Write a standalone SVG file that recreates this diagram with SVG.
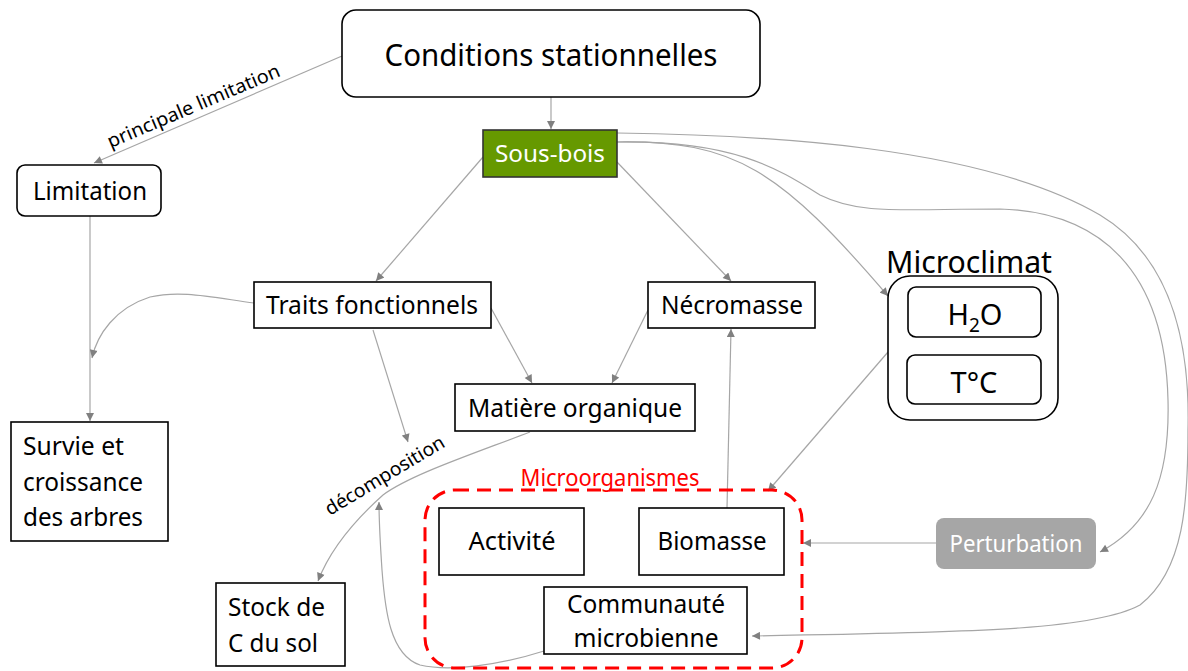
<svg xmlns="http://www.w3.org/2000/svg" width="1188" height="671" viewBox="0 0 1188 671">
<defs>
<marker id="arr" viewBox="0 0 10 10" refX="10" refY="5" markerWidth="9" markerHeight="8" markerUnits="userSpaceOnUse" orient="auto">
<path d="M0,0 L10,5 L0,10 z" fill="#808080"/>
</marker>
<style>
.box{fill:#fff;stroke:#000;stroke-width:1.6}
.t{font-family:"Noto Sans","Open Sans",sans-serif;fill:#000}
.c{fill:none;stroke:#a6a6a6;stroke-width:1.2;marker-end:url(#arr)}
.lbl{font-family:"Noto Sans","Open Sans",sans-serif;font-size:19px;fill:#000}
</style>
</defs>
<rect width="1188" height="671" fill="#fff"/>

<g id="connectors">
<path class="c" d="M342,56 L94,163"/>
<path class="c" d="M551,97 L551,129"/>
<path class="c" d="M90,216 L90,421"/>
<path class="c" d="M254,303 C210,297 180,290 150,297 C115,308 97,335 92,358"/>
<path class="c" d="M483,157 L376,281"/>
<path class="c" d="M617,162 L731,281"/>
<path class="c" d="M617,142 C735,140 780,170 888,296"/>
<path class="c" d="M617,142 C735,140 780,170 820,195 C860,215 900,209 1000,209 C1100,212 1165,270 1168,400 C1170,480 1150,525 1100,552"/>
<path class="c" d="M617,133 C760,135 980,145 1100,215 C1175,260 1190,350 1188,430 C1188,500 1185,570 1140,605 C1090,632 950,632 752,636"/>
<path class="c" d="M936,543 L803,543"/>
<path class="c" d="M888,352 L768,491"/>
<path class="c" d="M727,508 L731,329"/>
<path class="c" d="M648,310 L612,383"/>
<path class="c" d="M491,308 L532,383"/>
<path class="c" d="M373,330 L408,442"/>
<path class="c" d="M530,432 C470,455 410,475 383,495 C355,520 330,550 318,581"/>
<path class="c" d="M544,651 C500,665 450,672 420,665 C390,655 385,610 382,570 C380,540 379,520 379,502"/>
<text class="lbl" transform="translate(196,112) rotate(-23)" text-anchor="middle" textLength="186" lengthAdjust="spacingAndGlyphs">principale limitation</text>
<text class="lbl" transform="translate(388,481) rotate(-31)" text-anchor="middle" textLength="136" lengthAdjust="spacingAndGlyphs">décomposition</text>
</g>

<g id="conditions">
<rect class="box" x="342" y="10" width="418" height="87" rx="14"/>
<text class="t" x="551" y="66" font-size="31" text-anchor="middle" textLength="333" lengthAdjust="spacingAndGlyphs">Conditions stationnelles</text>
</g>

<g id="sousbois">
<rect x="483" y="130" width="134" height="47" fill="#669900" stroke="#333" stroke-width="1.6"/>
<text class="t" x="550" y="162" font-size="23" style="fill:#fff" text-anchor="middle" textLength="110" lengthAdjust="spacingAndGlyphs">Sous-bois</text>
</g>

<g id="limitation">
<rect class="box" x="17" y="165" width="144" height="51" rx="8"/>
<text class="t" x="90" y="200" font-size="25" text-anchor="middle" textLength="114" lengthAdjust="spacingAndGlyphs">Limitation</text>
</g>

<g id="traits">
<rect class="box" x="254" y="282" width="237" height="46"/>
<text class="t" x="372" y="314" font-size="25" text-anchor="middle" textLength="212" lengthAdjust="spacingAndGlyphs">Traits fonctionnels</text>
</g>

<g id="necromasse">
<rect class="box" x="648" y="282" width="167" height="46"/>
<text class="t" x="732" y="314" font-size="25" text-anchor="middle" textLength="142" lengthAdjust="spacingAndGlyphs">Nécromasse</text>
</g>

<g id="microclimat">
<text class="t" x="969" y="273" font-size="31" text-anchor="middle" textLength="166" lengthAdjust="spacingAndGlyphs">Microclimat</text>
<rect class="box" x="888" y="276" width="170" height="144" rx="22"/>
<g id="h2o">
<rect class="box" x="908" y="287" width="133" height="50" rx="8"/>
<text class="t" x="975" y="325" font-size="29" text-anchor="middle">H<tspan font-size="19" dy="7">2</tspan><tspan dy="-7">O</tspan></text>
</g>
<g id="temp">
<rect class="box" x="907" y="355" width="134" height="49" rx="8"/>
<text class="t" x="974" y="393" font-size="29" text-anchor="middle">T°C</text>
</g>
</g>

<g id="matiere">
<rect class="box" x="455" y="384" width="240" height="47"/>
<text class="t" x="575" y="417" font-size="25" text-anchor="middle" textLength="214" lengthAdjust="spacingAndGlyphs">Matière organique</text>
</g>

<g id="survie">
<rect class="box" x="11" y="422" width="157" height="119"/>
<text class="t" x="23" y="455" font-size="25" textLength="101" lengthAdjust="spacingAndGlyphs">Survie et</text>
<text class="t" x="23" y="491" font-size="25" textLength="120" lengthAdjust="spacingAndGlyphs">croissance</text>
<text class="t" x="23" y="526" font-size="25" textLength="120" lengthAdjust="spacingAndGlyphs">des arbres</text>
</g>

<g id="microorganismes">
<rect x="425" y="490" width="377" height="178" rx="30" fill="none" stroke="#ff0000" stroke-width="3" stroke-dasharray="14 8"/>
<text class="t" x="610" y="486" font-size="23" style="fill:#ff0000" text-anchor="middle" textLength="179" lengthAdjust="spacingAndGlyphs">Microorganismes</text>
</g>

<g id="activite">
<rect class="box" x="439" y="508" width="145" height="67"/>
<text class="t" x="512" y="550" font-size="25" text-anchor="middle" textLength="87" lengthAdjust="spacingAndGlyphs">Activité</text>
</g>

<g id="biomasse">
<rect class="box" x="639" y="508" width="145" height="67"/>
<text class="t" x="712" y="550" font-size="25" text-anchor="middle" textLength="109" lengthAdjust="spacingAndGlyphs">Biomasse</text>
</g>

<g id="communaute">
<rect class="box" x="544" y="587" width="203" height="67"/>
<text class="t" x="646" y="613" font-size="25" text-anchor="middle" textLength="158" lengthAdjust="spacingAndGlyphs">Communauté</text>
<text class="t" x="646" y="647" font-size="25" text-anchor="middle" textLength="145" lengthAdjust="spacingAndGlyphs">microbienne</text>
</g>

<g id="perturbation">
<rect x="936" y="518" width="160" height="51" rx="8" fill="#a6a6a6"/>
<text class="t" x="1016" y="552" font-size="23" style="fill:#fff" text-anchor="middle" textLength="133" lengthAdjust="spacingAndGlyphs">Perturbation</text>
</g>

<g id="stock">
<rect class="box" x="216" y="583" width="129" height="83"/>
<text class="t" x="228" y="616" font-size="25" textLength="97" lengthAdjust="spacingAndGlyphs">Stock de</text>
<text class="t" x="228" y="652" font-size="25" textLength="90" lengthAdjust="spacingAndGlyphs">C du sol</text>
</g>
</svg>
